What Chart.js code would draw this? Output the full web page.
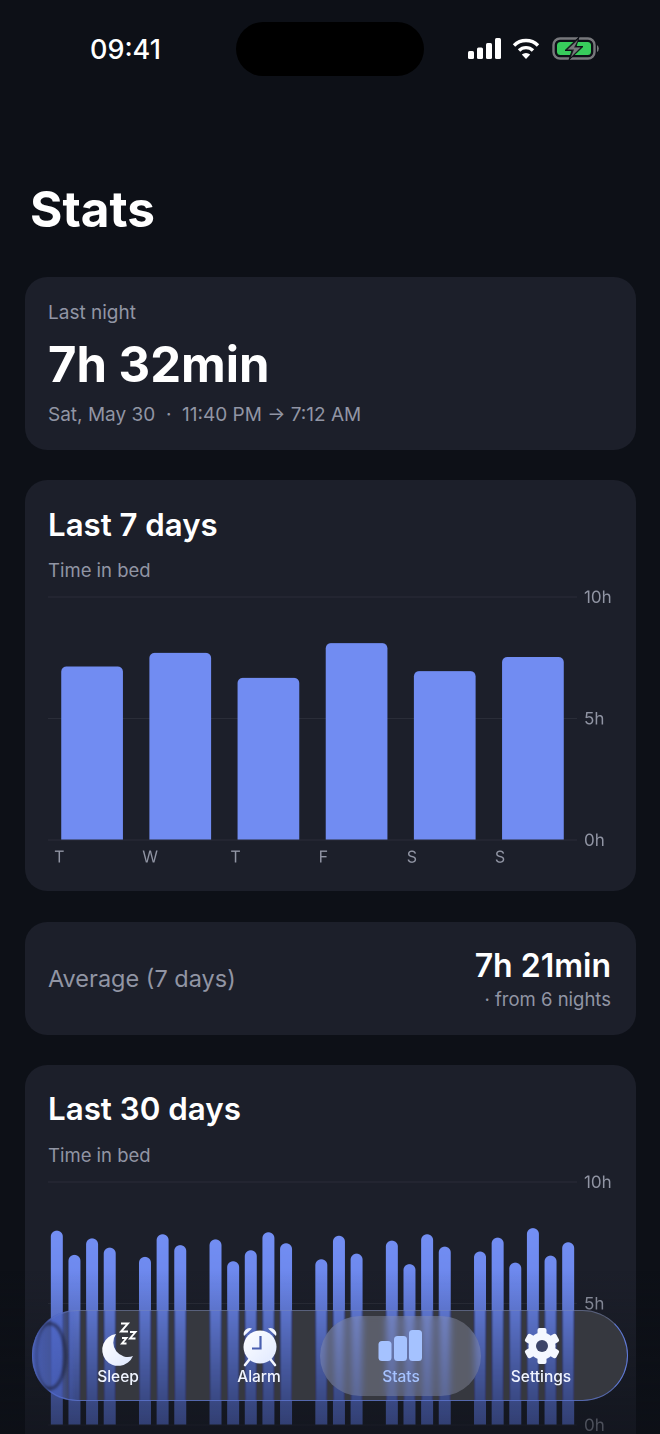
<!DOCTYPE html>
<html><head><meta charset="utf-8">
<script src="https://cdn.jsdelivr.net/npm/chart.js@4"></script>
<style>
*{box-sizing:border-box;margin:0;padding:0}
html,body{width:660px;height:1434px;overflow:hidden;background:#0d1017;font-family:Inter,sans-serif;color:#fff}
.t{position:absolute;white-space:nowrap;line-height:1;transform:translateY(-50%)}
.card{position:absolute;left:25px;width:611px;background:#1c1f2a;border-radius:22px}
.g{color:#9195a4}
canvas{position:absolute}
#fade{position:absolute;left:0;top:1270px;width:660px;height:164px;background:linear-gradient(to bottom,rgba(13,16,23,0),rgba(13,16,23,.55))}
#navblur{position:absolute;left:32px;top:1310px;width:596px;height:91px;border-radius:46px;backdrop-filter:blur(1px)}
#nav{position:absolute;left:32px;top:1310px;width:596px;height:91px;border-radius:46px;background:#36383f;mix-blend-mode:lighten}
#edge{position:absolute;left:32px;top:1310px;width:596px;height:91px;border-radius:46px;border:1px solid rgba(125,140,190,.5);border-right-color:rgba(100,130,235,.9);border-bottom-color:rgba(100,125,220,.7)}
#lens{position:absolute;left:32px;top:1310px;width:44px;height:91px;border-radius:46px 0 0 46px;background:linear-gradient(to right,rgba(75,100,200,.85),rgba(75,100,200,.55) 70%,rgba(75,100,200,0))}
#ring{position:absolute;left:36px;top:1322px;width:31px;height:68px;border-radius:13px 17px 17px 13px/34px;border:3px solid rgba(25,28,50,.7);border-left-width:1px;filter:blur(1.4px)}
#pill{position:absolute;left:320px;top:1316px;width:161px;height:80px;border-radius:40px;background:rgba(165,170,190,.33);backdrop-filter:blur(3px)}
.lab{position:absolute;top:1377px;transform:translate(-50%,-50%);font-size:15.5px;font-weight:500;line-height:1;white-space:nowrap;color:#f0f4ff}
svg{position:absolute;overflow:visible}
</style></head><body>
<div class="t" style="left:90px;top:49px;font-size:27px;font-weight:500">09:41</div>
<div style="position:absolute;left:236px;top:22px;width:188px;height:54px;border-radius:27px;background:#000"></div>
<svg style="left:468px;top:38px" width="34" height="22" fill="#fff"><rect x="0" y="13" width="6" height="8" rx="1.5"/><rect x="9" y="9.5" width="6" height="11.5" rx="1.5"/><rect x="18" y="5" width="6" height="16" rx="1.5"/><rect x="27" y="0" width="6" height="21" rx="1.5"/></svg>
<svg style="left:512px;top:38px" width="28" height="22" fill="none" stroke="#fff" stroke-width="3.4"><path d="M2 7.5 A17 17 0 0 1 26 7.5"/><path d="M7 12.5 A10 10 0 0 1 21 12.5"/><path d="M14 21 L9.8 16.6 A6 6 0 0 1 18.2 16.6 Z" fill="#fff" stroke="none"/></svg>
<svg style="left:552px;top:37px" width="48" height="24"><rect x="1.5" y="1.5" width="41" height="20" rx="6.5" fill="none" stroke="#77787c" stroke-width="2.4"/><path d="M45 8 a3.5 4 0 0 1 0 7z" fill="#77787c"/><rect x="5" y="5" width="34" height="13" rx="3.5" fill="#38cc5c"/><path d="M27 0 L13 13.5 H20 L17 23 L31 9.5 H24Z" fill="#1c1f22" stroke="#0d1017" stroke-width="1"/><path d="M26 3 L15.5 12.5 H22 L19 20 L28.5 10.5 H22Z" fill="#77787c"/></svg>

<div class="t" style="left:30px;top:210px;font-size:49.500px;font-weight:700">Stats</div>

<div class="card" style="top:277px;height:173px"></div>
<div class="t g" style="left:48px;top:312px;font-size:19px">Last night</div>
<div class="t" style="left:48px;top:364px;font-size:49px;font-weight:700">7h 32min</div>
<div class="t g" style="left:48px;top:414px;font-size:19px">Sat, May 30 &nbsp;·&nbsp; 11:40 PM → 7:12 AM</div>

<div class="card" style="top:480px;height:411px"></div>
<div class="t" style="left:48px;top:525.5px;font-size:31.200px;font-weight:600">Last 7 days</div>
<div class="t g" style="left:48px;top:570px;font-size:18.500px">Time in bed</div>

<div class="card" style="top:922px;height:113px"></div>
<div class="t g" style="left:48px;top:979px;font-size:23.500px">Average (7 days)</div>
<div class="t" style="right:49px;top:966px;font-size:32px;font-weight:600">7h 21min</div>
<div class="t g" style="right:49px;top:999px;font-size:18.500px">· from 6 nights</div>

<div class="card" style="top:1065px;height:421px"></div>
<div class="t" style="left:48px;top:1109.5px;font-size:31.300px;font-weight:600">Last 30 days</div>
<div class="t g" style="left:48px;top:1155px;font-size:18.500px">Time in bed</div>

<canvas id="week" style="left:48px;top:585px"></canvas>
<canvas id="month" style="left:48px;top:1169.5px"></canvas>

<div id="fade"></div>
<div id="navblur"></div><div id="nav"></div><div id="edge"></div><div id="lens"></div><div id="ring"></div><div id="pill"></div>

<svg style="left:102px;top:1322px" width="40" height="44"><defs><linearGradient id="ic" x1="0" y1="0" x2="1" y2="1"><stop offset="0" stop-color="#fff"/><stop offset="1" stop-color="#dfe8ff"/></linearGradient></defs><path d="M14 12 A16 16 0 1 0 31 34 A14.5 14.5 0 0 1 14 12Z" fill="url(#ic)"/><g fill="none" stroke="#fff" stroke-width="1.9"><path d="M19 1.5h7l-7 8h7"/><path d="M28 10h5.5l-5.5 6.5h5.5"/><path d="M20 16h4.500l-4.500 5.500h4.500"/></g></svg>
<svg style="left:240px;top:1326px" width="40" height="44"><circle cx="20" cy="21" r="16.500" fill="url(#ic)"/><path d="M4 10 A6 6 0 0 1 12 2.500Z M36 10 A6 6 0 0 0 28 2.500Z" fill="#f4f7ff"/><path d="M9 34 L5 39 M31 34 L35 39" stroke="#f4f7ff" stroke-width="2.6" stroke-linecap="round"/><path d="M20.5 10 V22.5 H12" fill="none" stroke="#4a5fb0" stroke-width="2.2"/></svg>
<svg style="left:378px;top:1329px" width="44" height="34" fill="#a5c2ff"><rect x="0.5" y="12" width="13" height="20" rx="3.5"/><rect x="16" y="7" width="13" height="25" rx="3.5"/><rect x="31" y="1" width="13" height="31" rx="3.5"/></svg>
<svg style="left:524px;top:1328px" width="36" height="36" viewBox="-18 -18 36 36"><g fill="#f4f7ff"><circle r="13.500"/><rect x="-4.500" y="-18" width="9" height="8" rx="2"/><rect x="-4.500" y="10" width="9" height="8" rx="2"/><rect x="-4.500" y="-18" width="9" height="8" rx="2" transform="rotate(60)"/><rect x="-4.500" y="10" width="9" height="8" rx="2" transform="rotate(60)"/><rect x="-4.500" y="-18" width="9" height="8" rx="2" transform="rotate(120)"/><rect x="-4.500" y="10" width="9" height="8" rx="2" transform="rotate(120)"/></g><circle r="6" fill="#3c4468"/></svg>
<div class="lab" style="left:118px">Sleep</div>
<div class="lab" style="left:259px">Alarm</div>
<div class="lab" style="left:401px;color:#a5c2ff">Stats</div>
<div class="lab" style="left:541px">Settings</div>

<script>
const weekLabels = ['T','W','T','F','S','S'];
const weekValues = [7.14,7.7,6.67,8.1,6.95,7.53];
const monthLabels = ['1','2','3','4','5','6','7','8','9','10','11','12','13','14','15','16','17','18','19','20','21','22','23','24','25','26','27','28','29','30'];
const monthValues = [8.0,7.0,7.68,7.3,null,6.92,7.85,7.4,null,7.64,6.74,7.19,7.93,7.48,null,6.82,7.79,7.05,null,7.59,6.62,7.85,7.34,null,7.14,7.71,6.68,8.1,6.97,7.52];
const yTickValues = [0,5,10];

Chart.defaults.font.family = 'Inter, sans-serif';
function base(id, labels, values, fill, radius, frac, height, showX){
  const cv = document.getElementById(id);
  cv.style.width = '563px'; cv.style.height = height + 'px';
  return new Chart(cv, {
    type:'bar',
    data:{labels, datasets:[{data:values, backgroundColor:fill, borderRadius:{topLeft:radius,topRight:radius,bottomLeft:0,bottomRight:0}, borderSkipped:false, categoryPercentage:1, barPercentage:frac}]},
    options:{
      responsive:false, animation:false, devicePixelRatio:2,
      layout:{padding:{top:12,left:0,right:0,bottom:0}},
      plugins:{legend:{display:false},tooltip:{enabled:false}},
      scales:{
        x:{grid:{display:false}, border:{display:false},
           afterFit:s=>{s.height=30;s.paddingLeft=0;s.paddingRight=0},
           ticks:{display:showX, color:'#9195a4', font:{size:16}, maxRotation:0, autoSkip:false, align:'start', labelOffset:-38, padding:0}},
        y:{position:'right', min:0, max:10,
           afterBuildTicks:a=>{a.ticks=yTickValues.map(v=>({value:v}))},
           afterFit:s=>{s.width=34;s.paddingTop=0;s.paddingBottom=0},
           border:{display:false}, grid:{color:'#2a2d38', lineWidth:1, drawTicks:false},
           ticks:{color:'#9195a4', font:{size:17}, padding:7, labelOffset:1, callback:v=>v+'h'}}
      }
    }
  });
}
base('week', weekLabels, weekValues, '#718cf2', 5, 0.7, 285, true);
base('month', monthLabels, monthValues, ctx=>{
  const a = ctx.chart.chartArea; if(!a) return '#718cf2';
  const g = ctx.chart.ctx.createLinearGradient(0,a.top,0,a.bottom);
  g.addColorStop(0,'#7a96fb'); g.addColorStop(0.5,'#6a85ea'); g.addColorStop(1,'#5a72d4');
  return g;
}, 6, 0.68, 285, false);
</script>
</body></html>
